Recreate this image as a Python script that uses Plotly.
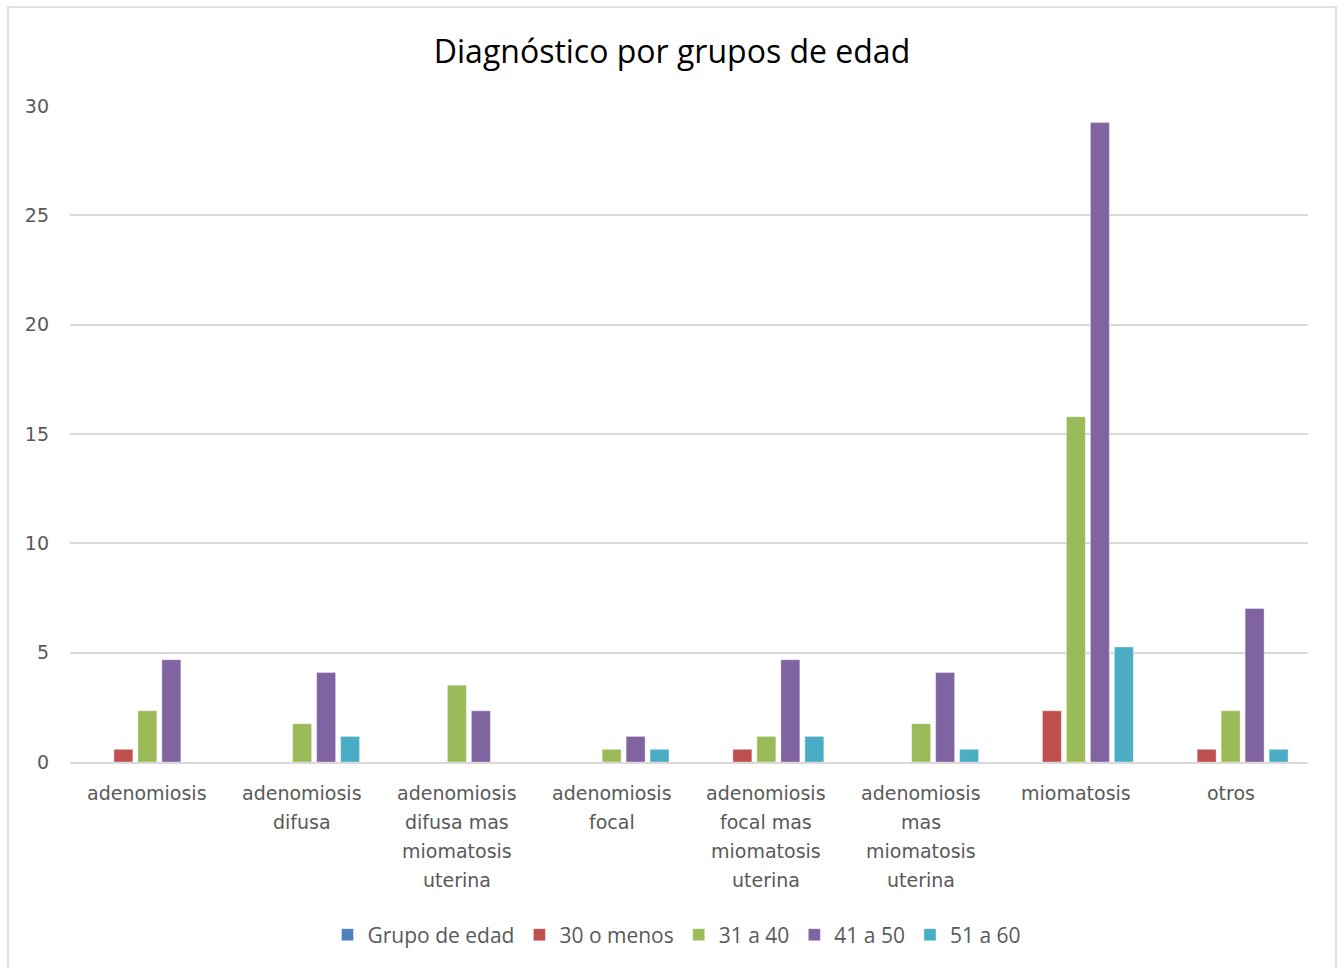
import plotly.graph_objects as go

# Diagnosis categories (multi-line labels as drawn under the axis)
categories = [
    "adenomiosis",
    "adenomiosis difusa",
    "adenomiosis difusa mas miomatosis uterina",
    "adenomiosis focal",
    "adenomiosis focal mas miomatosis uterina",
    "adenomiosis mas miomatosis uterina",
    "miomatosis",
    "otros",
]
label_lines = [
    ["adenomiosis"],
    ["adenomiosis", "difusa"],
    ["adenomiosis", "difusa mas", "miomatosis", "uterina"],
    ["adenomiosis", "focal"],
    ["adenomiosis", "focal mas", "miomatosis", "uterina"],
    ["adenomiosis", "mas", "miomatosis", "uterina"],
    ["miomatosis"],
    ["otros"],
]

# Percentages per age group
grupo_de_edad = [None] * 8
menos_30 = [0.58, None, None, None, 0.58, None, 2.34, 0.58]
de_31_a_40 = [2.34, 1.75, 3.51, 0.58, 1.17, 1.75, 15.79, 2.34]
de_41_a_50 = [4.68, 4.09, 2.34, 1.17, 4.68, 4.09, 29.24, 7.02]
de_51_a_60 = [None, 1.17, None, 0.58, 1.17, 0.58, 5.26, 0.58]

series = [
    ("Grupo de edad", grupo_de_edad, "#4F81BD"),
    ("30 o menos", menos_30, "#C0504D"),
    ("31 a 40", de_31_a_40, "#9BBB59"),
    ("41 a 50", de_41_a_50, "#8064A2"),
    ("51 a 60", de_51_a_60, "#4BACC6"),
]

y_ticks = [0, 5, 10, 15, 20, 25, 30]

label_font = "DejaVu Sans"
gray = "#595959"

W, H = 1339, 969
ML, MR, MT, MB = 70, 31, 106, 207
PW, PH = W - ML - MR, H - MT - MB

fig = go.Figure()
for name, vals, color in series:
    fig.add_trace(go.Bar(
        name=name,
        x=categories,
        y=vals,
        marker=dict(color=color, line=dict(color="rgba(255,255,255,0.35)", width=1)),
    ))

# Category labels with Excel-like line spacing
line_gap = 29
for cat, lines in zip(categories, label_lines):
    for i, txt in enumerate(lines):
        fig.add_annotation(
            x=cat, y=0, xref="x", yref="y",
            text=txt, showarrow=False,
            yanchor="middle", xanchor="center",
            yshift=-(31 + line_gap * i),
            font=dict(family=label_font, size=19, color=gray),
        )

fig.update_layout(
    width=W, height=H,
    paper_bgcolor="white", plot_bgcolor="white",
    margin=dict(l=ML, r=MR, t=MT, b=MB, autoexpand=False),
    barmode="group", bargap=0.225, bargroupgap=0.21,
    title=dict(
        text="Diagnóstico por grupos de edad",
        x=672 / W, xanchor="center", xref="container",
        y=1 - 52 / H, yanchor="middle", yref="container",
        font=dict(family="Open Sans", size=32, color="#000000"),
    ),
    xaxis=dict(
        showticklabels=False, showgrid=False, zeroline=False,
        showline=True, linecolor="#D9D9D9", linewidth=1.5,
        ticks="",
    ),
    yaxis=dict(
        range=[0, 30], tickvals=y_ticks,
        showgrid=True, gridcolor="#D9D9D9", gridwidth=1.5,
        zeroline=False, showline=False, ticks="",
        ticklabelstandoff=20,
        tickfont=dict(family=label_font, size=19, color=gray),
    ),
    legend=dict(
        orientation="h", x=(677 - ML) / PW, xanchor="center",
        y=-(935 - (H - MB)) / PH, yanchor="middle",
        font=dict(family="Liberation Sans Narrow, Open Sans", size=21, color=gray),
        itemwidth=30, traceorder="normal",
    ),
    showlegend=True,
    shapes=[dict(
        type="rect", xref="paper", yref="paper",
        x0=-(ML - 8) / PW, x1=1 + (MR - 3) / PW,
        y0=-(MB + 10) / PH, y1=1 + (MT - 7) / PH,
        line=dict(color="#D9D9D9", width=1.5), fillcolor="rgba(0,0,0,0)",
        layer="below",
    )],
)

fig.write_html("out.html")
